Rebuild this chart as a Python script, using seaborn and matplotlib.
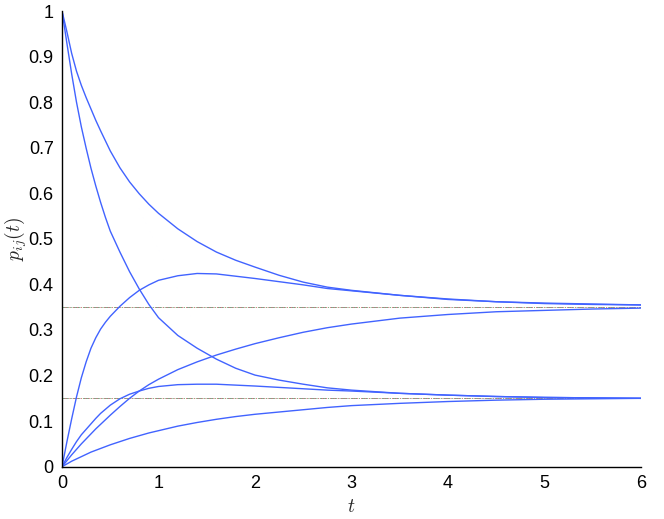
import matplotlib
matplotlib.use("Agg")
import matplotlib.pyplot as plt
import pandas as pd
import seaborn as sns

# time grid
t = [0, 0.05, 0.1, 0.15, 0.2, 0.25, 0.3, 0.35, 0.4, 0.45, 0.5, 0.6, 0.7, 0.8, 0.9, 1.0,
     1.2, 1.4, 1.6, 1.8, 2.0, 2.25, 2.5, 2.75, 3.0, 3.5, 4.0, 4.5, 5.0, 5.5, 6.0]

# curves converging to 0.35
p_a = [1.0, 0.955, 0.907, 0.868, 0.837, 0.81, 0.785, 0.76, 0.737, 0.715, 0.693, 0.656, 0.625, 0.599, 0.576, 0.556,
       0.522, 0.494, 0.471, 0.453, 0.438, 0.42, 0.405, 0.394, 0.387, 0.376, 0.368, 0.362, 0.359, 0.357, 0.355]
p_b = [0.0, 0.054, 0.105, 0.153, 0.195, 0.23, 0.26, 0.283, 0.302, 0.317, 0.33, 0.352, 0.371, 0.387, 0.399, 0.409,
       0.419, 0.424, 0.423, 0.418, 0.413, 0.406, 0.399, 0.391, 0.386, 0.376, 0.367, 0.362, 0.358, 0.356, 0.355]
p_c = [0.0, 0.013, 0.026, 0.038, 0.05, 0.061, 0.072, 0.083, 0.093, 0.103, 0.113, 0.132, 0.15, 0.166, 0.18, 0.192,
       0.213, 0.23, 0.245, 0.258, 0.27, 0.283, 0.295, 0.305, 0.313, 0.326, 0.334, 0.34, 0.343, 0.346, 0.348]

# curves converging to 0.15
p_d = [1.0, 0.93, 0.862, 0.80, 0.746, 0.699, 0.655, 0.616, 0.58, 0.547, 0.517, 0.471, 0.428, 0.39, 0.356, 0.327,
       0.288, 0.26, 0.236, 0.216, 0.201, 0.19, 0.181, 0.173, 0.168, 0.161, 0.157, 0.154, 0.152, 0.151, 0.15]
p_e = [0.0, 0.02, 0.038, 0.055, 0.07, 0.082, 0.094, 0.106, 0.117, 0.126, 0.135, 0.149, 0.159, 0.166, 0.172, 0.176,
       0.18, 0.181, 0.181, 0.179, 0.177, 0.174, 0.171, 0.168, 0.166, 0.161, 0.157, 0.154, 0.152, 0.151, 0.15]
p_f = [0.0, 0.006, 0.012, 0.017, 0.022, 0.027, 0.032, 0.036, 0.04, 0.044, 0.048, 0.055, 0.062, 0.068, 0.074, 0.079,
       0.089, 0.097, 0.104, 0.11, 0.115, 0.12, 0.125, 0.13, 0.134, 0.139, 0.143, 0.146, 0.148, 0.149, 0.15]

stationary = [0.35, 0.15]

curves = {"a": p_a, "b": p_b, "c": p_c, "d": p_d, "e": p_e, "f": p_f}
data = pd.concat(
    [pd.DataFrame({"t": t, "p": vals, "curve": name}) for name, vals in curves.items()],
    ignore_index=True,
)

sns.set_style("white")
plt.rcParams["font.family"] = ["Liberation Sans", "DejaVu Sans"]
plt.rcParams["mathtext.fontset"] = "cm"

fig = plt.figure(figsize=(6.64, 5.19), dpi=100)
ax = fig.add_axes([0.0934, 0.1008, 0.872, 0.878])

blue = "#4163ff"
sns.lineplot(
    data=data, x="t", y="p", hue="curve",
    palette=[blue] * len(curves), estimator=None, sort=False,
    linewidth=1.0, legend=False, ax=ax,
)

# stationary levels: overlapping dash-dot lines in several colours
for level in stationary:
    ax.axhline(level, color="#888888", linestyle="-.", linewidth=0.7, zorder=1)
    ax.axhline(level, color="#e08080", linestyle=(1, (1, 3)), linewidth=0.7, zorder=1)
    ax.axhline(level, color="#80c080", linestyle=(3, (1, 3)), linewidth=0.7, zorder=1)

ax.set_xlim(0, 6)
ax.set_ylim(0, 1)
ax.set_xticks(range(0, 7))
ax.set_yticks([i / 10 for i in range(11)])
ax.set_yticklabels(["0"] + [f"{i / 10:g}" for i in range(1, 10)] + ["1"])
ax.tick_params(direction="in", length=5, width=0.8, labelsize=13, pad=6, colors="black")
ax.set_xlabel("$t$", fontsize=14, labelpad=5)
ax.set_ylabel("$p_{ij}(t)$", fontsize=14, labelpad=0)

sns.despine(ax=ax)
for side in ("left", "bottom"):
    ax.spines[side].set_color("black")
    ax.spines[side].set_linewidth(1.0)

fig.savefig("out.png", dpi=100)
